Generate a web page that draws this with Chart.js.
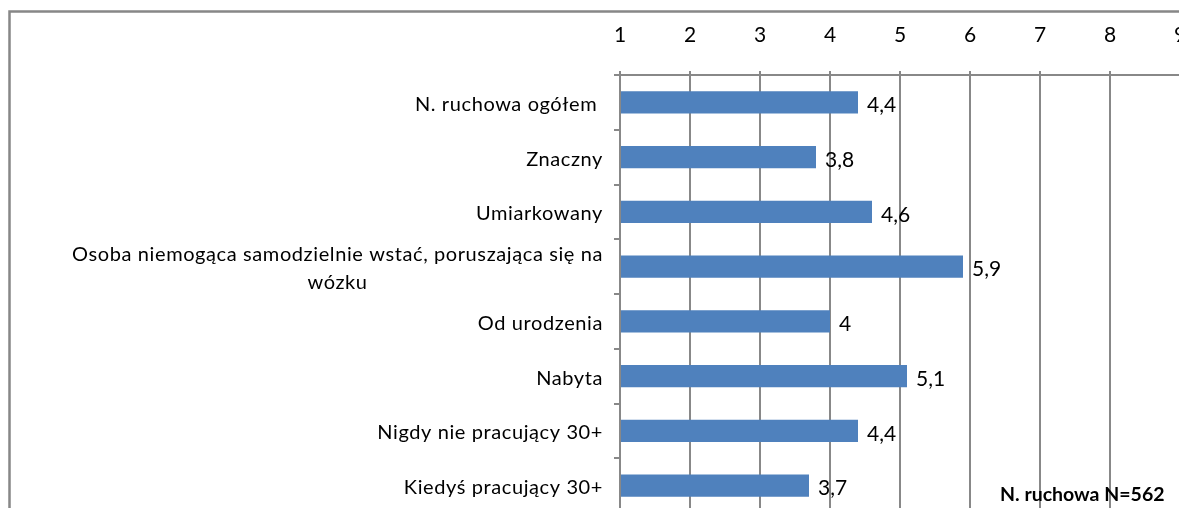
<!DOCTYPE html>
<html>
<head>
<meta charset="utf-8">
<script src="https://cdn.jsdelivr.net/npm/chart.js@4"></script>
<style>
    html, body { margin: 0; padding: 0; background: #fff; overflow: hidden; }
    #wrap { position: absolute; left: 0; top: 0; width: 1300px; height: 520px; }
</style>
</head>
<body>
<div id="wrap"><canvas id="chart" width="1300" height="520"></canvas></div>
<script>
    const categories = [
        'N. ruchowa ogółem ',
        'Znaczny',
        'Umiarkowany',
        ['Osoba niemogąca samodzielnie wstać, poruszająca się na', 'wózku'],
        'Od urodzenia',
        'Nabyta',
        'Nigdy nie pracujący 30+',
        'Kiedyś pracujący 30+'
    ];
    const values = [4.4, 3.8, 4.6, 5.9, 4.0, 5.1, 4.4, 3.7];
    const axisMin = 1;
    const axisMax = 10;
    const noteText = 'N. ruchowa N=562';

    const gridColor = '#888888';
    const barColor = '#4f81bd';
    const fontFamily = 'Lato, "Liberation Sans", sans-serif';

    // frame of the chart (top and left edges only are visible)
    const framePlugin = {
        id: 'frame',
        beforeDraw(chart) {
            const ctx = chart.ctx;
            ctx.save();
            ctx.strokeStyle = '#878787';
            ctx.lineWidth = 2.5;
            ctx.beginPath();
            ctx.moveTo(9.5, 600);
            ctx.lineTo(9.5, 11.5);
            ctx.lineTo(1300, 11.5);
            ctx.stroke();
            ctx.restore();
        }
    };

    // category labels: right aligned, wrapped lines centered on the widest one
    const categoryLabelPlugin = {
        id: 'categoryLabels',
        afterDraw(chart) {
            const ctx = chart.ctx;
            const yScale = chart.scales.y;
            const right = 603;
            const lineHeight = 28;
            ctx.save();
            ctx.font = '20px ' + fontFamily;
            ctx.letterSpacing = '0.6px';
            ctx.fillStyle = '#000';
            ctx.textAlign = 'center';
            ctx.textBaseline = 'middle';
            categories.forEach(function (label, i) {
                const lines = Array.isArray(label) ? label : [label];
                let widest = 0;
                for (const line of lines) {
                    widest = Math.max(widest, ctx.measureText(line).width);
                }
                const cx = right - widest / 2;
                const y = yScale.getPixelForValue(i) + 2 - (lines.length - 1) * lineHeight / 2;
                lines.forEach(function (line, j) {
                    ctx.fillText(line, cx, y + j * lineHeight);
                });
            });
            ctx.restore();
        }
    };

    // value labels to the right of each bar, decimal comma
    const valueLabelPlugin = {
        id: 'valueLabels',
        afterDatasetsDraw(chart) {
            const ctx = chart.ctx;
            const meta = chart.getDatasetMeta(0);
            ctx.save();
            ctx.font = '21px ' + fontFamily;
            ctx.fillStyle = '#000';
            ctx.textAlign = 'left';
            ctx.textBaseline = 'middle';
            meta.data.forEach(function (bar, i) {
                const text = String(values[i]).replace('.', ',');
                ctx.fillText(text, bar.x + 9, bar.y + 3);
            });
            ctx.font = 'bold 19.5px ' + fontFamily;
            ctx.fillText(noteText, 1000, 495);
            ctx.restore();
        }
    };

    function generateChart() {
        const ctx = document.getElementById('chart');

        new Chart(ctx, {
            type: 'bar',
            data: {
                labels: categories,
                datasets: [
                    {
                        data: values,
                        base: axisMin,
                        backgroundColor: barColor,
                        borderWidth: 0,
                        barPercentage: 0.41,
                        categoryPercentage: 1
                    }
                ]
            },
            options: {
                indexAxis: 'y',
                responsive: false,
                animation: false,
                events: [],
                layout: { padding: { top: 0, left: 0, right: 50, bottom: 7 } },
                plugins: {
                    legend: { display: false },
                    tooltip: { enabled: false }
                },
                scales: {
                    x: {
                        position: 'top',
                        min: axisMin,
                        max: axisMax,
                        ticks: {
                            stepSize: 1,
                            color: '#000',
                            padding: 23,
                            font: { family: fontFamily, size: 21 }
                        },
                        grid: {
                            color: gridColor,
                            lineWidth: 2,
                            tickLength: 4
                        },
                        border: { color: gridColor, width: 2 },
                        afterFit: function (scale) { scale.height = 75; }
                    },
                    y: {
                        ticks: { display: false },
                        grid: {
                            offset: true,
                            drawOnChartArea: false,
                            drawTicks: true,
                            tickLength: 6,
                            color: gridColor,
                            lineWidth: 2
                        },
                        border: { color: gridColor, width: 2 },
                        afterFit: function (scale) { scale.width = 620; }
                    }
                }
            },
            plugins: [framePlugin, categoryLabelPlugin, valueLabelPlugin]
        });
    }

    generateChart();
</script>
</body>
</html>
